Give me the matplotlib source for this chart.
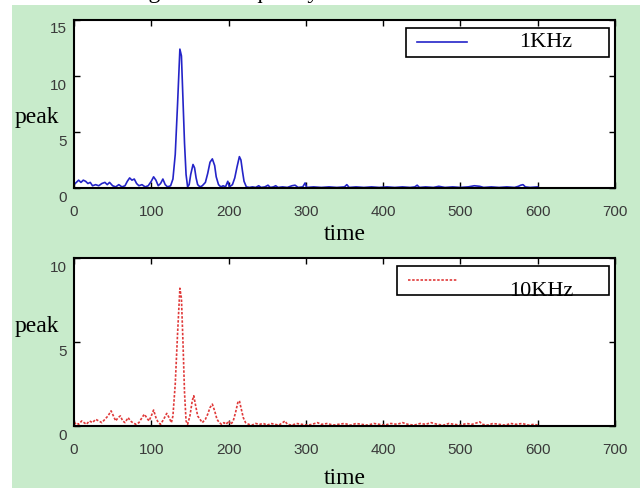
import matplotlib
matplotlib.use("Agg")
import matplotlib.pyplot as plt
from matplotlib.patches import Rectangle
from matplotlib.transforms import ScaledTranslation

# 1KHz series
t_1k = [0, 3, 6, 9, 12, 15, 18, 21, 24, 28, 32, 36, 40, 43, 46, 50, 54, 58, 62, 66,
        69, 72, 75, 78, 81, 84, 88, 92, 96, 100, 103, 106, 109, 112, 115, 118, 121, 125,
        128, 131, 134, 137, 139, 141, 143, 145, 147, 149, 151, 154, 156, 158, 160, 163,
        166, 170, 173, 176, 179, 182, 184, 187, 190, 193, 196, 199, 201, 205, 208, 211,
        214, 216, 218, 220, 223, 227, 231, 235, 239, 242, 247, 251, 254, 258, 261, 264,
        270, 276, 282, 286, 290, 296, 299, 301, 310, 320, 330, 340, 350, 353, 356, 365,
        375, 385, 395, 405, 415, 425, 435, 441, 444, 447, 455, 465, 472, 480, 490, 500,
        510, 518, 525, 530, 540, 550, 560, 570, 575, 578, 581, 584, 590, 600]
peak_1k = [0.3, 0.5, 0.7, 0.5, 0.7, 0.6, 0.4, 0.5, 0.2, 0.3, 0.2, 0.4, 0.5, 0.3, 0.5, 0.2,
           0.1, 0.3, 0.1, 0.2, 0.6, 0.9, 0.7, 0.8, 0.4, 0.2, 0.3, 0.1, 0.2, 0.6, 1.0, 0.7,
           0.2, 0.4, 0.8, 0.3, 0.1, 0.2, 0.8, 3.0, 7.5, 12.4, 11.8, 8.0, 4.0, 1.2, 0.1, 0.3,
           1.2, 2.1, 1.8, 0.9, 0.3, 0.1, 0.2, 0.5, 1.3, 2.3, 2.6, 2.0, 1.0, 0.3, 0.1, 0.2,
           0.1, 0.6, 0.1, 0.3, 0.9, 1.9, 2.8, 2.5, 1.5, 0.6, 0.1, 0.05, 0.1, 0.05, 0.2, 0.05,
           0.1, 0.25, 0.05, 0.1, 0.2, 0.05, 0.1, 0.05, 0.2, 0.25, 0.05, 0.1, 0.45, 0.05, 0.1,
           0.05, 0.1, 0.05, 0.1, 0.3, 0.05, 0.1, 0.05, 0.1, 0.05, 0.1, 0.05, 0.1, 0.05, 0.1,
           0.25, 0.05, 0.1, 0.05, 0.15, 0.05, 0.1, 0.05, 0.1, 0.2, 0.15, 0.05, 0.1, 0.05,
           0.1, 0.05, 0.15, 0.25, 0.3, 0.1, 0.05, 0.1]

# 10KHz series
t_10k = [0, 3, 6, 10, 13, 16, 20, 24, 28, 32, 36, 40, 44, 48, 51, 54, 57, 60, 63, 66,
         70, 73, 76, 80, 84, 88, 91, 94, 97, 100, 103, 106, 109, 112, 116, 120, 123, 126,
         128, 131, 134, 137, 139, 141, 143, 145, 147, 150, 153, 155, 157, 160, 163, 166,
         170, 173, 176, 179, 182, 185, 188, 191, 194, 197, 200, 203, 206, 209, 212, 214,
         216, 219, 222, 226, 230, 235, 240, 245, 250, 255, 260, 265, 270, 273, 276, 282,
         288, 295, 302, 308, 315, 320, 328, 335, 342, 350, 358, 365, 372, 380, 388, 395,
         402, 410, 418, 425, 432, 440, 448, 455, 462, 470, 478, 485, 492, 500, 508, 515,
         522, 525, 528, 535, 542, 550, 558, 565, 572, 580, 588, 595, 600]
peak_10k = [0.1, 0.2, 0.1, 0.3, 0.2, 0.1, 0.3, 0.2, 0.4, 0.3, 0.2, 0.4, 0.6, 0.9, 0.6, 0.3,
            0.5, 0.6, 0.3, 0.2, 0.5, 0.3, 0.2, 0.1, 0.2, 0.5, 0.7, 0.5, 0.3, 0.6, 0.95, 0.5,
            0.2, 0.1, 0.4, 0.75, 0.5, 0.2, 0.6, 2.5, 5.5, 8.2, 7.6, 5.0, 2.0, 0.3, 0.1, 0.6,
            1.5, 1.8, 1.3, 0.6, 0.4, 0.2, 0.4, 0.7, 1.1, 1.3, 0.9, 0.4, 0.2, 0.1, 0.2, 0.1,
            0.3, 0.1, 0.3, 0.8, 1.4, 1.5, 1.1, 0.5, 0.2, 0.1, 0.05, 0.15, 0.1, 0.15, 0.05,
            0.15, 0.1, 0.05, 0.2, 0.3, 0.1, 0.05, 0.15, 0.1, 0.05, 0.1, 0.2, 0.1, 0.15, 0.05,
            0.1, 0.15, 0.05, 0.15, 0.1, 0.05, 0.15, 0.1, 0.05, 0.15, 0.1, 0.2, 0.1, 0.05,
            0.15, 0.1, 0.2, 0.1, 0.05, 0.15, 0.1, 0.05, 0.15, 0.1, 0.2, 0.25, 0.1, 0.05,
            0.15, 0.1, 0.05, 0.15, 0.1, 0.15, 0.05, 0.1, 0.05]

x_ticks = [0, 100, 200, 300, 400, 500, 600, 700]
serif = ["Liberation Serif", "DejaVu Serif"]
sans = ["Liberation Sans", "DejaVu Sans"]

fig = plt.figure(figsize=(6.4, 4.88), dpi=100)
fig.patch.set_facecolor("white")
fig.patches.append(Rectangle((12 / 640, 0), 1, 1 - 5 / 488, transform=fig.transFigure,
                             facecolor="#c8ebcb", edgecolor="none", zorder=-10))
# clipped caption line of the source page
fig.text(20 / 640, 1 + 2 / 488, "with the strength and frequency.", family=serif,
         fontsize=17, va="baseline", ha="left")

ax1 = fig.add_axes([74 / 640, 1 - 188 / 488, 541 / 640, 168 / 488])
ax2 = fig.add_axes([74 / 640, 1 - 426 / 488, 541 / 640, 168 / 488])

ax1.plot(t_1k, peak_1k, color="#2424c8", lw=1.2)
ax2.plot(t_10k, peak_10k, color="#e03a3a", lw=1.2, linestyle=(0, (1.5, 1)))

setup = [(ax1, 15, [0, 5, 10, 15], -0.214, 0.42, "1KHz", "#2424c8", "-", 0.869),
         (ax2, 10, [0, 5, 10], -0.25, 0.595, "10KHz", "#e03a3a", (0, (1.5, 1)), 0.775)]

for ax, ymax, yt, xl_y, yl_y, name, col, ls, txt_y in setup:
    ax.set_xlim(0, 700)
    ax.set_ylim(0, ymax)
    ax.set_xticks(x_ticks)
    ax.set_yticks(yt)
    ax.tick_params(direction="in", top=True, right=True, length=4, width=1,
                   labelsize=11, labelcolor="#3a3a3a")
    ax.tick_params(axis="x", pad=12)
    ax.tick_params(axis="y", pad=5)
    for lbl in ax.get_xticklabels() + ax.get_yticklabels():
        lbl.set_family(sans)
    for lbl in ax.get_yticklabels():
        lbl.set_transform(lbl.get_transform() + ScaledTranslation(0, -0.08, fig.dpi_scale_trans))
    for sp in ax.spines.values():
        sp.set_linewidth(1.5)
    ax.set_xlabel("time", family=serif, fontsize=17)
    ax.xaxis.set_label_coords(0.5, xl_y)
    ax.set_ylabel("peak", family=serif, fontsize=17, rotation=0, va="center", ha="center")
    ax.yaxis.set_label_coords(-0.068, yl_y)

    # legend box
    x0 = 0.614 if name == "1KHz" else 0.597
    ax.add_patch(Rectangle((x0, 0.78), 0.989 - x0, 0.172, transform=ax.transAxes,
                           facecolor="white", edgecolor="black", lw=1.2, zorder=5))
    ax.plot([x0 + 0.02, x0 + 0.112], [0.869, 0.869], transform=ax.transAxes,
            color=col, lw=1.2, linestyle=ls, zorder=6)
    ax.text(x0 + 0.208, txt_y, name, transform=ax.transAxes, family=serif, fontsize=16,
            va="center" if name == "1KHz" else "baseline", ha="left", zorder=6)

fig.savefig("out.png", dpi=100)
